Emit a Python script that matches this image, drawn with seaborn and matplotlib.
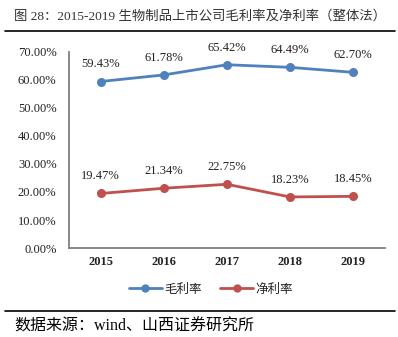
import matplotlib
matplotlib.use("Agg")
import matplotlib.pyplot as plt
import seaborn as sns
import pandas as pd
from matplotlib.lines import Line2D

years = ["2015", "2016", "2017", "2018", "2019"]
gross_margin = [59.43, 61.78, 65.42, 64.49, 62.70]
net_margin = [19.47, 21.34, 22.75, 18.23, 18.45]
series_names = ["毛利率", "净利率"]
title_text = "图 28：2015-2019 生物制品上市公司毛利率及净利率（整体法）"
source_text = "数据来源：wind、山西证券研究所"

sns.set_theme(style="white")
plt.rcParams['font.family'] = ['Liberation Serif', 'Noto Sans CJK SC', 'DejaVu Sans']

colors = ["#4F81BD", "#C0504D"]

df = pd.DataFrame({
    "year": years * 2,
    "value": gross_margin + net_margin,
    "series": [series_names[0]] * 5 + [series_names[1]] * 5,
})

fig = plt.figure(figsize=(3.98, 3.37), dpi=100)
ax = fig.add_axes([0.1734, 0.264, 0.7936, 0.582])

sns.pointplot(data=df, x="year", y="value", hue="series", palette=colors,
              markers="o", markersize=5, linewidth=2, ax=ax, legend=False)

ax.set_ylim(0, 70)
ax.set_yticks(range(0, 71, 10))
ax.set_yticklabels([f"{v:.2f}%" for v in range(0, 71, 10)], fontsize=9,
                   family=['Liberation Serif'])
ax.set_xticklabels(years, fontsize=9, family=['Liberation Serif'], fontweight='bold')
ax.set_xlim(-0.5, 4.5)
ax.set_xlabel("")
ax.set_ylabel("")
ax.tick_params(axis='y', length=0, pad=9, colors="#222222")
ax.tick_params(axis='x', length=0, pad=6, colors="#222222")
for s in ["top", "right"]:
    ax.spines[s].set_visible(False)
for s in ["left", "bottom"]:
    ax.spines[s].set_color("#7f7f7f")
    ax.spines[s].set_linewidth(1.3)
ax.grid(False)

for vals in (gross_margin, net_margin):
    for i, v in enumerate(vals):
        ax.annotate(f"{v:.2f}%", (i, v), xytext=(0, 8), textcoords="offset points",
                    ha="center", va="bottom", fontsize=9,
                    family=['Liberation Serif'], color="#222222")

handles = [Line2D([0], [0], color=c, lw=2, marker="o", markersize=5) for c in colors]
fig.legend(handles, series_names, loc="center", bbox_to_anchor=(0.53, 0.142),
           ncol=2, frameon=False, handlelength=2.6,
           columnspacing=1.5, handletextpad=0.2,
           prop={'family': ['Noto Sans CJK SC'], 'size': 9})

fig.text(0.035, 0.95, title_text, fontsize=9.6, color="#333333", va="center",
         family=['Liberation Serif', 'Noto Sans CJK SC'])
fig.add_artist(Line2D([0.013, 0.992], [0.908, 0.908], color="black", lw=1.2))
fig.add_artist(Line2D([0.013, 0.992], [0.077, 0.077], color="black", lw=1.2))
fig.text(0.035, 0.032, source_text, fontsize=11.5, color="black", va="center",
         family=['Liberation Serif', 'Noto Sans CJK SC'])

fig.savefig("out.png", dpi=100)
